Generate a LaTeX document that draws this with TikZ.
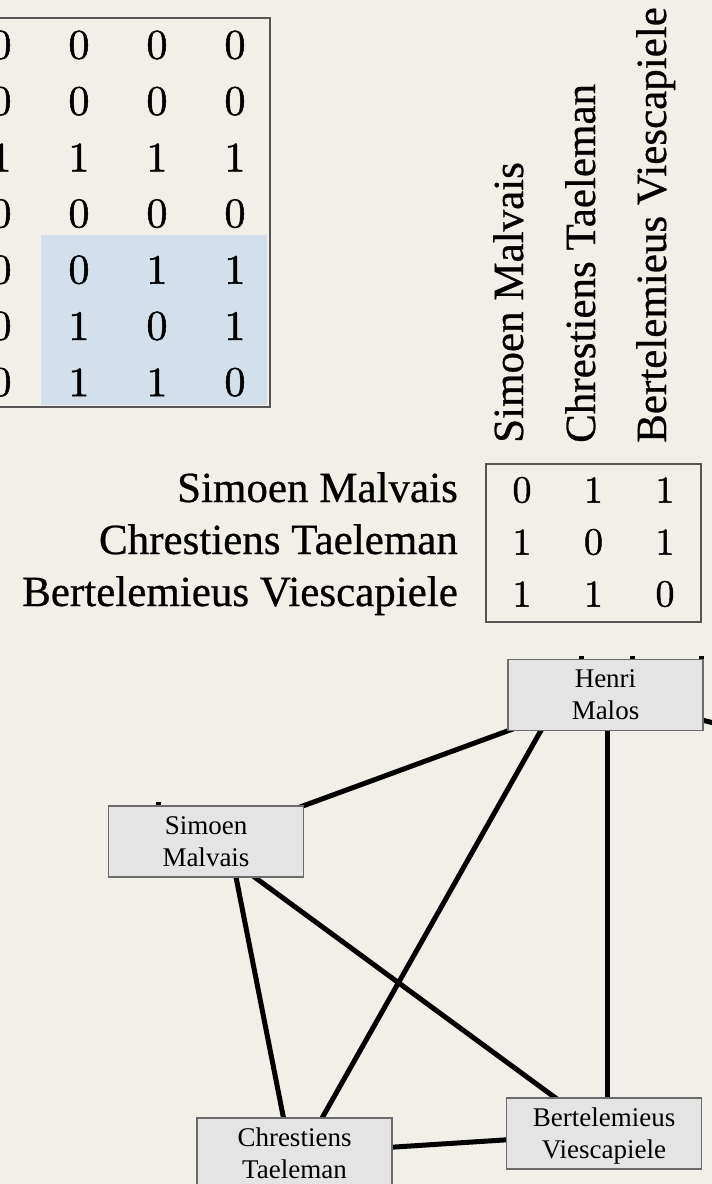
\documentclass[tikz,border=0pt]{standalone}
\usepackage{fontspec}
\newfontfamily\labelserif{Liberation Serif}
\newfontfamily\headserif{Liberation Serif}[FakeBold=0.6]
\newfontfamily\digitfont{lmroman10-regular}[Extension=.otf, FakeBold=1.2]
\usetikzlibrary{backgrounds}

\definecolor{parchment}{HTML}{F2EFE9}
\definecolor{hilite}{HTML}{D3DFEA}
\definecolor{boxfill}{HTML}{E4E4E4}
\definecolor{boxline}{HTML}{6B6B6B}
\definecolor{frameline}{HTML}{555555}

\pgfdeclarelayer{paperlayer}
\pgfsetlayers{paperlayer,background,main}

\tikzset{
  cell/.style={inner sep=0pt, font=\digitfont\fontsize{42}{42}\selectfont},
  adjcell/.style={inner sep=0pt, font=\digitfont\fontsize{38}{38}\selectfont},
  rowlabel/.style={inner sep=0pt, anchor=base east, font=\headserif\fontsize{43}{43}\selectfont},
  collabel/.style={rowlabel, anchor=base west, rotate=90},
  matframe/.style={draw=frameline, line width=1.8pt, inner sep=0pt},
  person/.style={draw=boxline, fill=boxfill, line width=1.3pt,
    minimum width=195pt, minimum height=71pt, inner sep=0pt,
    align=center, text depth=0pt, font=\labelserif\fontsize{27}{32}\selectfont},
  tie/.style={line width=5pt, black},
}

\begin{document}
\begin{tikzpicture}[x=1pt, y=-1pt]
\useasboundingbox (0,0) rectangle (712,1184);
\clip (0,0) rectangle (712,1184);

\begin{pgfonlayer}{paperlayer}
  \fill[parchment] (0,0) rectangle (712,1184);
\end{pgfonlayer}

% ---- large 0/1 matrix (left part runs off the page) ----
\node[fill=hilite, inner sep=0pt, minimum width=226pt, minimum height=170pt] (hl) at (154,320) {};
\node[matframe, minimum width=330pt, minimum height=389pt] (bigframe) at (105,212.5) {};
\foreach \row [count=\r] in {{0,0,0,0},{0,0,0,0},{1,1,1,1},{0,0,0,0},{0,0,1,1},{0,1,0,1},{0,1,1,0}} {
  \foreach \v [count=\c] in \row {
    \node[cell] (m-\r-\c) at ({1+78*(\c-1)}, {45+56.2*(\r-1)}) {\v};
  }
}

% ---- adjacency matrix with labels ----
\node[collabel] (cl-1) at (523,443) {Simoen Malvais};
\node[collabel] (cl-2) at (595,443) {Chrestiens Taeleman};
\node[collabel] (cl-3) at (666,443) {Bertelemieus Viescapiele};

\node[rowlabel] (rl-1) at (458,502) {Simoen Malvais};
\node[rowlabel] (rl-2) at (458,554) {Chrestiens Taeleman};
\node[rowlabel] (rl-3) at (458,606) {Bertelemieus Viescapiele};

\node[matframe, minimum width=215pt, minimum height=158pt] (adjframe) at (593.5,543) {};
\foreach \row [count=\r] in {{0,1,1},{1,0,1},{1,1,0}} {
  \foreach \v [count=\c] in \row {
    \node[adjcell] (a-\r-\c) at ({522+71.5*(\c-1)}, {490+52*(\r-1)}) {\v};
  }
}

% ---- graph ----
\node[person] (henri)  at (605.5,695)    {Henri\\Malos};
\node[person] (simoen) at (206,841.5)    {Simoen\\Malvais};
\node[person] (chrest) at (294.5,1153.5) {Chrestiens\\Taeleman};
\node[person] (bertel) at (604,1133.5)   {Bertelemieus\\Viescapiele};
\coordinate (offright) at (760,735);

\begin{pgfonlayer}{background}
  \draw[tie] (henri.center) -- (simoen.center);
  \draw[tie] ([xshift=-44.5pt]henri.center) -- ([xshift=7.5pt]chrest.center);
  \draw[tie] ([xshift=1.5pt]henri.center) -- ([xshift=3pt]bertel.center);
  \draw[tie] ([xshift=23pt]simoen.center) -- ([xshift=-4pt]chrest.center);
  \draw[tie] (simoen.center) -- (bertel.center);
  \draw[tie] (chrest.center) -- (bertel.center);
  \draw[tie] (henri.center) -- (offright);
  % short ends of lines leaving the top of the boxes
  \draw[tie] ([xshift=-24.5pt]henri.north) -- ++(0,-3);
  \draw[tie] ([xshift=26.5pt]henri.north) -- ++(0,-3);
  \draw[tie] ([xshift=-2pt]henri.north east) -- ++(0,-3);
  \draw[tie] ([xshift=-48pt]simoen.north) -- ++(0,-3);
\end{pgfonlayer}
\end{tikzpicture}
\end{document}
